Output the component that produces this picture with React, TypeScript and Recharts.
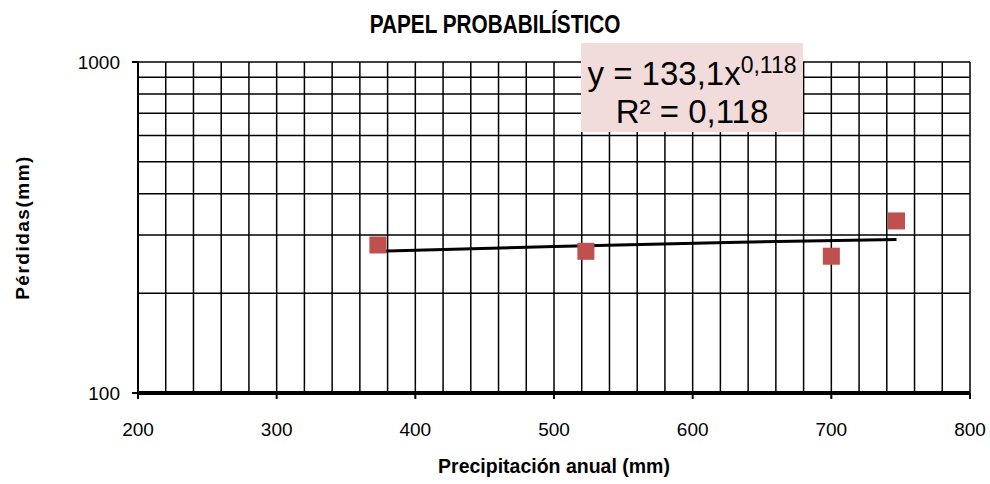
import React from "react"
import {
  ScatterChart,
  Scatter,
  XAxis,
  YAxis,
  ReferenceLine,
  Label,
} from "recharts"

const precipitation = [373, 523, 700, 747]
const losses = [280, 268, 259, 331]

const trendX = [373, 500, 625, 747]
const trendY = [268, 277, 285, 291]

const xTicks = [200, 300, 400, 500, 600, 700, 800]
const yTicks = [100, 1000]
const xGrid = [220, 240, 260, 280, 300, 320, 340, 360, 380, 400, 420, 440, 460, 480, 500, 520, 540, 560, 580, 600, 620, 640, 660, 680, 700, 720, 740, 760, 780, 800]
const yGrid = [200, 300, 400, 500, 600, 700, 800, 900, 1000]

const points = precipitation.map((x, i) => ({ x, y: losses[i] }))
const trend = trendX.map((x, i) => ({ x, y: trendY[i] }))

const font = "'Liberation Sans', Arial, sans-serif"

const Square = (props: any) => {
  const { cx, cy } = props
  if (cx == null || cy == null) return <g />
  return <rect x={cx - 8.5} y={cy - 8.5} width={17} height={17} fill="#c0504d" />
}

export default function App() {
  return (
    <div style={{ position: "absolute", left: 0, top: 0, width: 990, height: 484, background: "#fff", fontFamily: font }}>
      <div
        style={{
          position: "absolute",
          left: 0,
          top: 9,
          width: 990,
          textAlign: "center",
          fontSize: 25,
          lineHeight: "30px",
          fontWeight: "bold",
          transform: "scaleX(0.83)",
          transformOrigin: "495px 0",
        }}
      >
        PAPEL PROBABILÍSTICO
      </div>
      <ScatterChart
        width={990}
        height={484}
        margin={{ top: 62, right: 20, bottom: 51, left: 0 }}
      >
        {xGrid.map((v) => (
          <ReferenceLine key={"vx" + v} x={v} stroke="#000" strokeWidth={1.5} />
        ))}
        {yGrid.map((v) => (
          <ReferenceLine key={"hy" + v} y={v} stroke="#000" strokeWidth={1.5} />
        ))}
        <XAxis
          type="number"
          dataKey="x"
          domain={[200, 800]}
          ticks={xTicks}
          allowDataOverflow
          height={40}
          axisLine={{ stroke: "#000", strokeWidth: 4 }}
          tickLine={{ stroke: "#000", strokeWidth: 2 }}
          tickSize={6}
          tickMargin={24}
          tick={{ fill: "#000", fontSize: 19, fontFamily: font }}
        >
          <Label
            value="Precipitación anual (mm)"
            position="bottom"
            offset={26}
            style={{ fill: "#000", fontSize: 19.5, fontWeight: "bold", fontFamily: font }}
          />
        </XAxis>
        <YAxis
          type="number"
          dataKey="y"
          scale="log"
          domain={[100, 1000]}
          ticks={yTicks}
          allowDataOverflow
          width={138}
          axisLine={{ stroke: "#000", strokeWidth: 2 }}
          tickLine={{ stroke: "#000", strokeWidth: 2 }}
          tickSize={6}
          tickMargin={12}
          tick={{ fill: "#000", fontSize: 19, fontFamily: font }}
        >
          <Label
            value="Pérdidas(mm)"
            angle={-90}
            position="insideLeft"
            offset={22}
            style={{ fill: "#000", fontSize: 19, fontWeight: "bold", fontFamily: font, textAnchor: "middle", letterSpacing: 1.5 }}
          />
        </YAxis>
        <Scatter
          data={trend}
          line={{ stroke: "#000", strokeWidth: 3 }}
          shape={() => <g />}
          isAnimationActive={false}
        />
        <Scatter data={points} shape={Square} isAnimationActive={false} />
      </ScatterChart>
      <div
        style={{
          position: "absolute",
          left: 581,
          top: 43,
          width: 222,
          height: 89,
          background: "#f2dcdb",
          textAlign: "center",
          color: "#000",
          fontSize: 33,
          lineHeight: "38px",
          paddingTop: 12,
          boxSizing: "border-box",
          whiteSpace: "nowrap",
        }}
      >
        <div>
          y = 133,1x<sup style={{ fontSize: 23, verticalAlign: "12px", lineHeight: 0 }}>0,118</sup>
        </div>
        <div>R² = 0,118</div>
      </div>
    </div>
  )
}
